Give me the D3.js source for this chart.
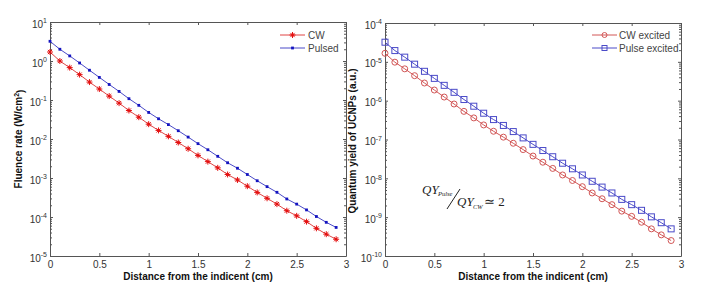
<!DOCTYPE html>
<html>
<head>
<meta charset="utf-8">
<script src="https://cdn.jsdelivr.net/npm/d3@7"></script>
<style>
  body { margin: 0; background: #fff; }
  svg { display: block; font-family: "Liberation Sans", Arial, sans-serif; }
  .axis path, .axis line { stroke: #555; }
  .axis text { fill: #333; font-size: 10px; font-family: "Liberation Sans", Arial, sans-serif; }
</style>
</head>
<body>
<div id="wrapper"></div>
<script>
// data
const distance = [0, 0.1, 0.2, 0.3, 0.4, 0.5, 0.6, 0.7, 0.8, 0.9,
  1.0, 1.1, 1.2, 1.3, 1.4, 1.5, 1.6, 1.7, 1.8, 1.9,
  2.0, 2.1, 2.2, 2.3, 2.4, 2.5, 2.6, 2.7, 2.8, 2.9];

const fluenceCW = [1.70, 1.00, 0.676, 0.447, 0.288, 0.191, 0.126, 0.0832, 0.0537, 0.0363,
  0.0240, 0.0166, 0.0117, 0.00813, 0.00562, 0.00380, 0.00263, 0.00182, 0.00123, 8.91e-4,
  6.17e-4, 4.27e-4, 3.02e-4, 2.14e-4, 1.45e-4, 1.07e-4, 7.59e-5, 5.13e-5, 3.63e-5, 2.69e-5];

const fluencePulsed = [3.2, 2.0, 1.35, 0.89, 0.58, 0.38, 0.25, 0.166, 0.108, 0.073,
  0.048, 0.033, 0.0234, 0.0163, 0.0112, 0.0076, 0.0053, 0.0036, 0.00246, 0.00178,
  0.00123, 8.5e-4, 6.0e-4, 4.3e-4, 2.9e-4, 2.14e-4, 1.52e-4, 1.03e-4, 7.3e-5, 5.4e-5];

const qyCW = [1.66e-5, 9.8e-6, 6.6e-6, 4.4e-6, 2.85e-6, 1.88e-6, 1.24e-6, 8.2e-7, 5.3e-7, 3.6e-7,
  2.37e-7, 1.63e-7, 1.15e-7, 8.0e-8, 5.5e-8, 3.75e-8, 2.6e-8, 1.8e-8, 1.22e-8, 8.8e-9,
  6.1e-9, 4.2e-9, 2.98e-9, 2.1e-9, 1.43e-9, 1.05e-9, 7.4e-10, 5.0e-10, 3.5e-10, 2.5e-10];

const qyPulse = [3.2e-5, 1.95e-5, 1.32e-5, 8.7e-6, 5.7e-6, 3.75e-6, 2.48e-6, 1.64e-6, 1.07e-6, 7.2e-7,
  4.75e-7, 3.26e-7, 2.3e-7, 1.6e-7, 1.1e-7, 7.5e-8, 5.2e-8, 3.6e-8, 2.45e-8, 1.76e-8,
  1.22e-8, 8.4e-9, 5.95e-9, 4.2e-9, 2.87e-9, 2.1e-9, 1.5e-9, 1.02e-9, 7.2e-10, 5.0e-10];

const xTicks = [0, 0.5, 1, 1.5, 2, 2.5, 3];
const xTickLabels = ["0", "0.5", "1", "1.5", "2", "2.5", "3"];
const leftDecades = [1e1, 1e0, 1e-1, 1e-2, 1e-3, 1e-4, 1e-5];
const rightDecades = [1e-4, 1e-5, 1e-6, 1e-7, 1e-8, 1e-9, 1e-10];

const xTitle = "Distance from the indicent (cm)";
const leftLegend = ["CW", "Pulsed"];
const rightLegend = ["CW excited", "Pulse excited"];

const red = "#e04545", redMark = "#e41010", redSoft = "#d25656";
const blue = "#4a4ac8", blueMark = "#1414c0";

const width = 717, height = 290;

const svg = d3.select("#wrapper").append("svg")
  .attr("width", width)
  .attr("height", height);

function drawPanel(opts) {
  const x = d3.scaleLinear().domain([0, 3]).range([opts.left, opts.right]);
  const y = d3.scaleLog().domain(opts.yDomain).range([opts.bottom, opts.top]);
  const g = svg.append("g");

  const majors = opts.decades;
  const minors = y.ticks().filter(v => !majors.some(m => Math.abs(Math.log10(v) - Math.log10(m)) < 1e-6));

  // frame + ticks on all four sides
  const ax = (gen, tx, ty) => g.append("g").attr("class", "axis")
    .attr("transform", `translate(${tx},${ty})`).call(gen);

  ax(d3.axisBottom(x).tickValues(xTicks).tickSize(-3).tickSizeOuter(0).tickPadding(5)
    .tickFormat((d, i) => xTickLabels[i]), 0, opts.bottom);
  ax(d3.axisTop(x).tickValues(xTicks).tickSize(-3).tickSizeOuter(0).tickFormat(""), 0, opts.top);

  const yl = ax(d3.axisLeft(y).tickValues(majors).tickSize(-3).tickSizeOuter(0).tickPadding(3)
    .tickFormat(""), opts.left, 0);
  ax(d3.axisRight(y).tickValues(majors).tickSize(-3).tickSizeOuter(0).tickFormat(""), opts.right, 0);
  ax(d3.axisLeft(y).tickValues(minors).tickSize(-2).tickSizeOuter(0).tickFormat(""), opts.left, 0)
    .select(".domain").remove();
  ax(d3.axisRight(y).tickValues(minors).tickSize(-2).tickSizeOuter(0).tickFormat(""), opts.right, 0)
    .select(".domain").remove();

  // y tick labels as 10 with superscript exponent
  yl.selectAll(".tick").each(function (d) {
    const t = d3.select(this).select("text")
      .attr("x", -3).attr("dy", "0.5em").attr("text-anchor", "end");
    t.text(null);
    t.append("tspan").text("10");
    t.append("tspan").attr("dy", "-0.6em").attr("font-size", "7px")
      .text(Math.round(Math.log10(d)));
  });

  // x title
  g.append("text")
    .attr("x", (opts.left + opts.right) / 2)
    .attr("y", 280)
    .attr("text-anchor", "middle")
    .attr("font-size", "10px").attr("font-weight", "bold").attr("fill", "#111")
    .text(xTitle);

  return { x, y, g };
}

// ---------- left panel ----------
const L = drawPanel({ left: 50, right: 346, top: 22, bottom: 256,
  yDomain: [1e-5, 1e1], decades: leftDecades });

const lyTitle = L.g.append("text")
  .attr("transform", "translate(22,139) rotate(-90)")
  .attr("text-anchor", "middle")
  .attr("font-size", "10px").attr("font-weight", "bold").attr("fill", "#111");
lyTitle.append("tspan").text("Fluence rate (W/cm");
lyTitle.append("tspan").attr("dy", "-0.5em").attr("font-size", "7px").text("2");
lyTitle.append("tspan").attr("dy", "0.5em").text(")");

const lineL = (vals) => d3.line().x((d, i) => L.x(distance[i])).y(d => L.y(d))(vals);

L.g.append("path").attr("d", lineL(fluenceCW)).attr("fill", "none").attr("stroke", red).attr("stroke-width", 1);
L.g.append("path").attr("d", lineL(fluencePulsed)).attr("fill", "none").attr("stroke", blue).attr("stroke-width", 1);

const star = "M-3,0L3,0M0,-3L0,3M-2.1,-2.1L2.1,2.1M-2.1,2.1L2.1,-2.1";

function starMark(sel) {
  sel.append("path").attr("d", star).attr("stroke", redMark).attr("stroke-width", 1).attr("fill", "none");
  sel.append("circle").attr("r", 1.2).attr("fill", redMark);
}

L.g.selectAll(".cw").data(fluenceCW).enter().append("g")
  .attr("transform", (d, i) => `translate(${L.x(distance[i])},${L.y(d)})`)
  .call(starMark);

L.g.selectAll(".pu").data(fluencePulsed).enter().append("rect")
  .attr("x", (d, i) => L.x(distance[i]) - 1.4).attr("y", d => L.y(d) - 1.4)
  .attr("width", 2.8).attr("height", 2.8).attr("fill", blueMark);

// left legend
const lg = L.g.append("g").attr("transform", "translate(280,35)");
lg.append("line").attr("x1", 0).attr("x2", 25).attr("y1", 0).attr("y2", 0).attr("stroke", red);
lg.append("g").attr("transform", "translate(12.5,0)").call(starMark);
lg.append("text").attr("x", 28).attr("y", 3.5).attr("font-size", "10px").attr("fill", "#444").text(leftLegend[0]);
lg.append("line").attr("x1", 0).attr("x2", 25).attr("y1", 13).attr("y2", 13).attr("stroke", blue);
lg.append("rect").attr("x", 11.1).attr("y", 11.6).attr("width", 2.8).attr("height", 2.8).attr("fill", blueMark);
lg.append("text").attr("x", 28).attr("y", 16.5).attr("font-size", "10px").attr("fill", "#444").text(leftLegend[1]);

// ---------- right panel ----------
const R = drawPanel({ left: 385, right: 681, top: 23, bottom: 256,
  yDomain: [1e-10, 1e-4], decades: rightDecades });

R.g.append("text")
  .attr("transform", "translate(356,141) rotate(-90)")
  .attr("text-anchor", "middle")
  .attr("font-size", "10px").attr("font-weight", "bold").attr("fill", "#111")
  .text("Quantum yield of UCNPs (a.u.)");

const lineR = (vals) => d3.line().x((d, i) => R.x(distance[i])).y(d => R.y(d))(vals);

R.g.append("path").attr("d", lineR(qyCW)).attr("fill", "none").attr("stroke", redSoft).attr("stroke-width", 1);
R.g.append("path").attr("d", lineR(qyPulse)).attr("fill", "none").attr("stroke", blue).attr("stroke-width", 1);

R.g.selectAll(".cwe").data(qyCW).enter().append("circle")
  .attr("cx", (d, i) => R.x(distance[i])).attr("cy", d => R.y(d)).attr("r", 3)
  .attr("fill", "none").attr("stroke", redSoft).attr("stroke-width", 1);

R.g.selectAll(".pue").data(qyPulse).enter().append("rect")
  .attr("x", (d, i) => R.x(distance[i]) - 3).attr("y", d => R.y(d) - 3)
  .attr("width", 6).attr("height", 6)
  .attr("fill", "none").attr("stroke", blue).attr("stroke-width", 1);

// right legend
const rg = R.g.append("g").attr("transform", "translate(592,35)");
rg.append("line").attr("x1", 0).attr("x2", 25).attr("y1", 0).attr("y2", 0).attr("stroke", redSoft);
rg.append("circle").attr("cx", 12.5).attr("cy", 0).attr("r", 2.5).attr("fill", "none").attr("stroke", redSoft);
rg.append("text").attr("x", 27).attr("y", 3.5).attr("font-size", "10px").attr("fill", "#444").text(rightLegend[0]);
rg.append("line").attr("x1", 0).attr("x2", 25).attr("y1", 13).attr("y2", 13).attr("stroke", blue);
rg.append("rect").attr("x", 10).attr("y", 10.5).attr("width", 5).attr("height", 5).attr("fill", "none").attr("stroke", blue);
rg.append("text").attr("x", 27).attr("y", 16.5).attr("font-size", "10px").attr("fill", "#444").text(rightLegend[1]);

// QY ratio annotation
const ann = R.g.append("g").attr("font-family", "'Liberation Serif', 'Times New Roman', serif").attr("fill", "#222");
ann.append("text").attr("x", 422).attr("y", 194).attr("font-size", "13px").attr("font-style", "italic").text("QY");
ann.append("text").attr("x", 438).attr("y", 196).attr("font-size", "6.5px").attr("font-style", "italic").text("Pulse");
ann.append("line").attr("x1", 447).attr("y1", 209).attr("x2", 460).attr("y2", 189).attr("stroke", "#222").attr("stroke-width", 1);
ann.append("text").attr("x", 457).attr("y", 206).attr("font-size", "13px").attr("font-style", "italic").text("QY");
ann.append("text").attr("x", 473).attr("y", 209).attr("font-size", "6.5px").attr("font-style", "italic").text("CW");
ann.append("text").attr("x", 484).attr("y", 206).attr("font-size", "13px").text("\u2243 2");
</script>
</body>
</html>
